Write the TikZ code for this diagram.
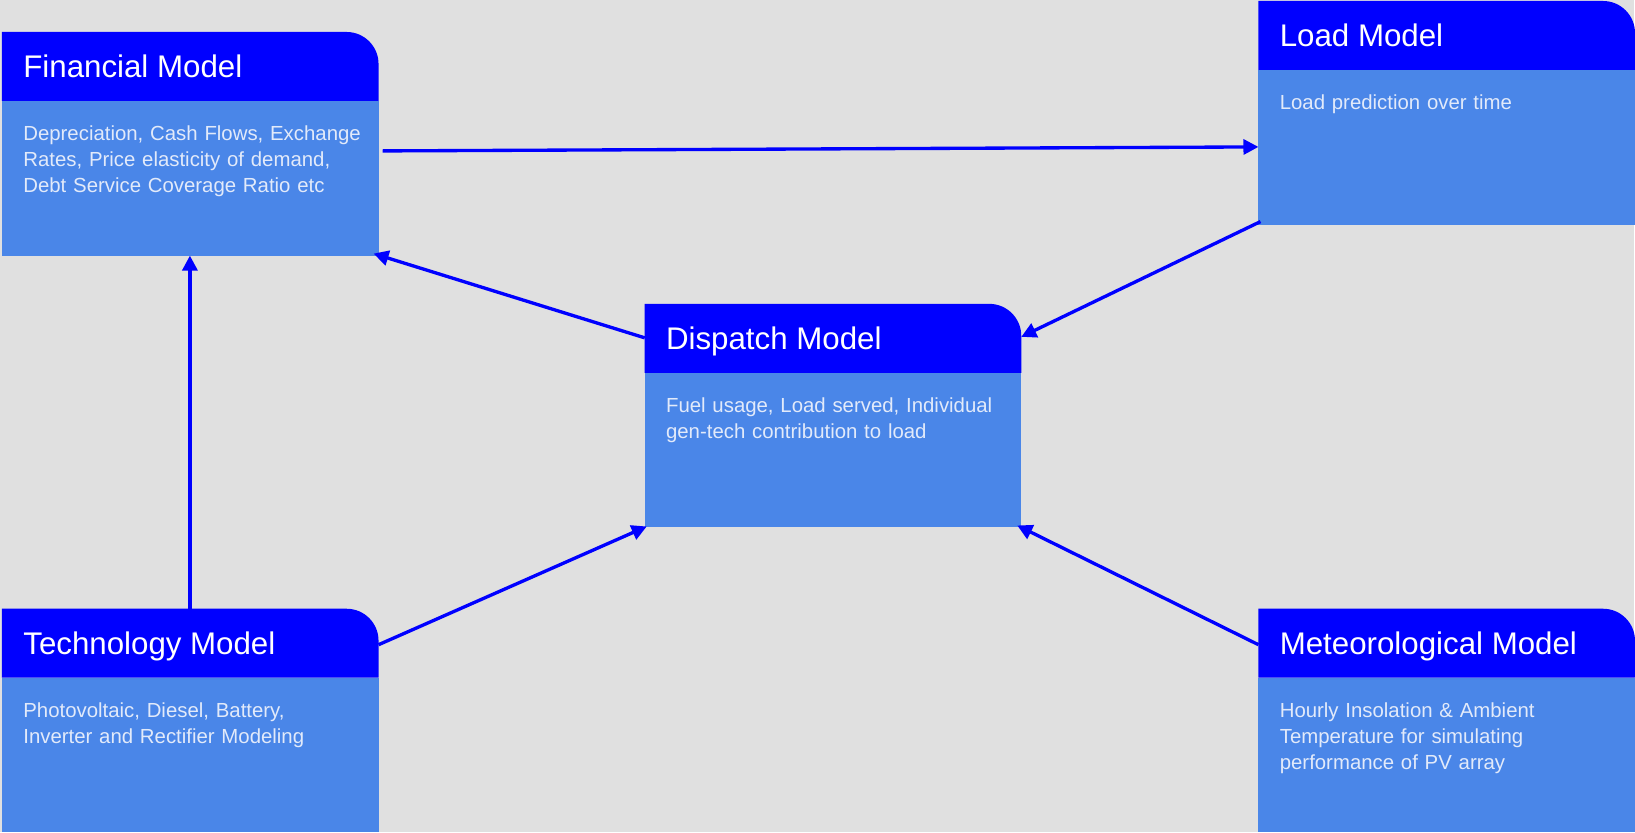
\documentclass[tikz,border=0pt]{standalone}
\usepackage{fontspec}
\setmainfont{Liberation Sans}
\usetikzlibrary{arrows.meta,calc}
\definecolor{bgray}{RGB}{224,224,224}
\definecolor{headblue}{RGB}{0,0,255}
\definecolor{bodyblue}{RGB}{74,134,232}
\definecolor{textpale}{RGB}{226,234,250}

\begin{document}
\begin{tikzpicture}[
  modelbox/.style={minimum width=7.52cm, minimum height=4.46cm, inner sep=0pt, anchor=north west},
  titletext/.style={font=\fontsize{17.8}{20}\selectfont, text=white, anchor=base west, inner sep=0pt},
  bodytext/.style={font=\fontsize{11.6}{14.8}\selectfont, text=textpale, anchor=base west, inner sep=0pt, text width=7.1cm, align=left},
  link/.style={headblue, line width=1.9pt, -{Triangle[length=0.3cm,width=0.3cm]}}
]
  % Background
  \fill[bgray] (0,0) rectangle (32.7,16.64);
  % Model boxes
  \foreach \name/\x/\y/\title/\body in {
      fin/0.04/16.0/{Financial Model}/{Depreciation, Cash Flows, Exchange\\Rates, Price elasticity of demand,\\Debt Service Coverage Ratio etc},
      load/25.18/16.62/{Load Model}/{Load prediction over time},
      disp/12.9/10.56/{Dispatch Model}/{Fuel usage, Load served, Individual\\gen-tech contribution to load},
      tech/0.04/4.46/{Technology Model}/{Photovoltaic, Diesel, Battery,\\Inverter and Rectifier Modeling},
      met/25.18/4.46/{Meteorological Model}/{Hourly Insolation \& Ambient\\Temperature for simulating\\performance of PV array}} {
    \node[modelbox] (\name) at (\x,\y) {};
    \fill[bodyblue] ([yshift=-1.38cm]\name.north west) rectangle (\name.south east);
    \fill[headblue] ([yshift=-1.38cm]\name.north west) -- ([yshift=-1.38cm]\name.north east)
      -- ([yshift=-0.64cm]\name.north east) arc[start angle=0, end angle=90, radius=0.64cm]
      -- (\name.north west) -- cycle;
    \node[titletext] (\name-title) at ([xshift=0.42cm, yshift=-0.92cm]\name.north west) {\title};
    \node[bodytext] (\name-text) at ([xshift=0.42cm, yshift=-2.18cm]\name.north west) {\body};
  }
  % Connectors
  \draw[link] ([xshift=0.08cm, yshift=-2.38cm]fin.north east) -- ([yshift=-2.92cm]load.north west);
  \draw[link] ([xshift=0.04cm, yshift=0.06cm]load.south west) -- ([yshift=-0.66cm]disp.north east);
  \draw[link] ([yshift=-0.68cm]disp.north west) -- ([xshift=-0.1cm, yshift=0.04cm]fin.south east);
  \draw[link] ([xshift=3.76cm, yshift=-0.08cm]tech.north west) -- ([xshift=3.76cm]fin.south west);
  \draw[link] ([yshift=-0.72cm]tech.north east) -- ([xshift=0.04cm, yshift=0.02cm]disp.south west);
  \draw[link] ([yshift=-0.72cm]met.north west) -- ([xshift=-0.08cm, yshift=0.04cm]disp.south east);
\end{tikzpicture}
\end{document}
